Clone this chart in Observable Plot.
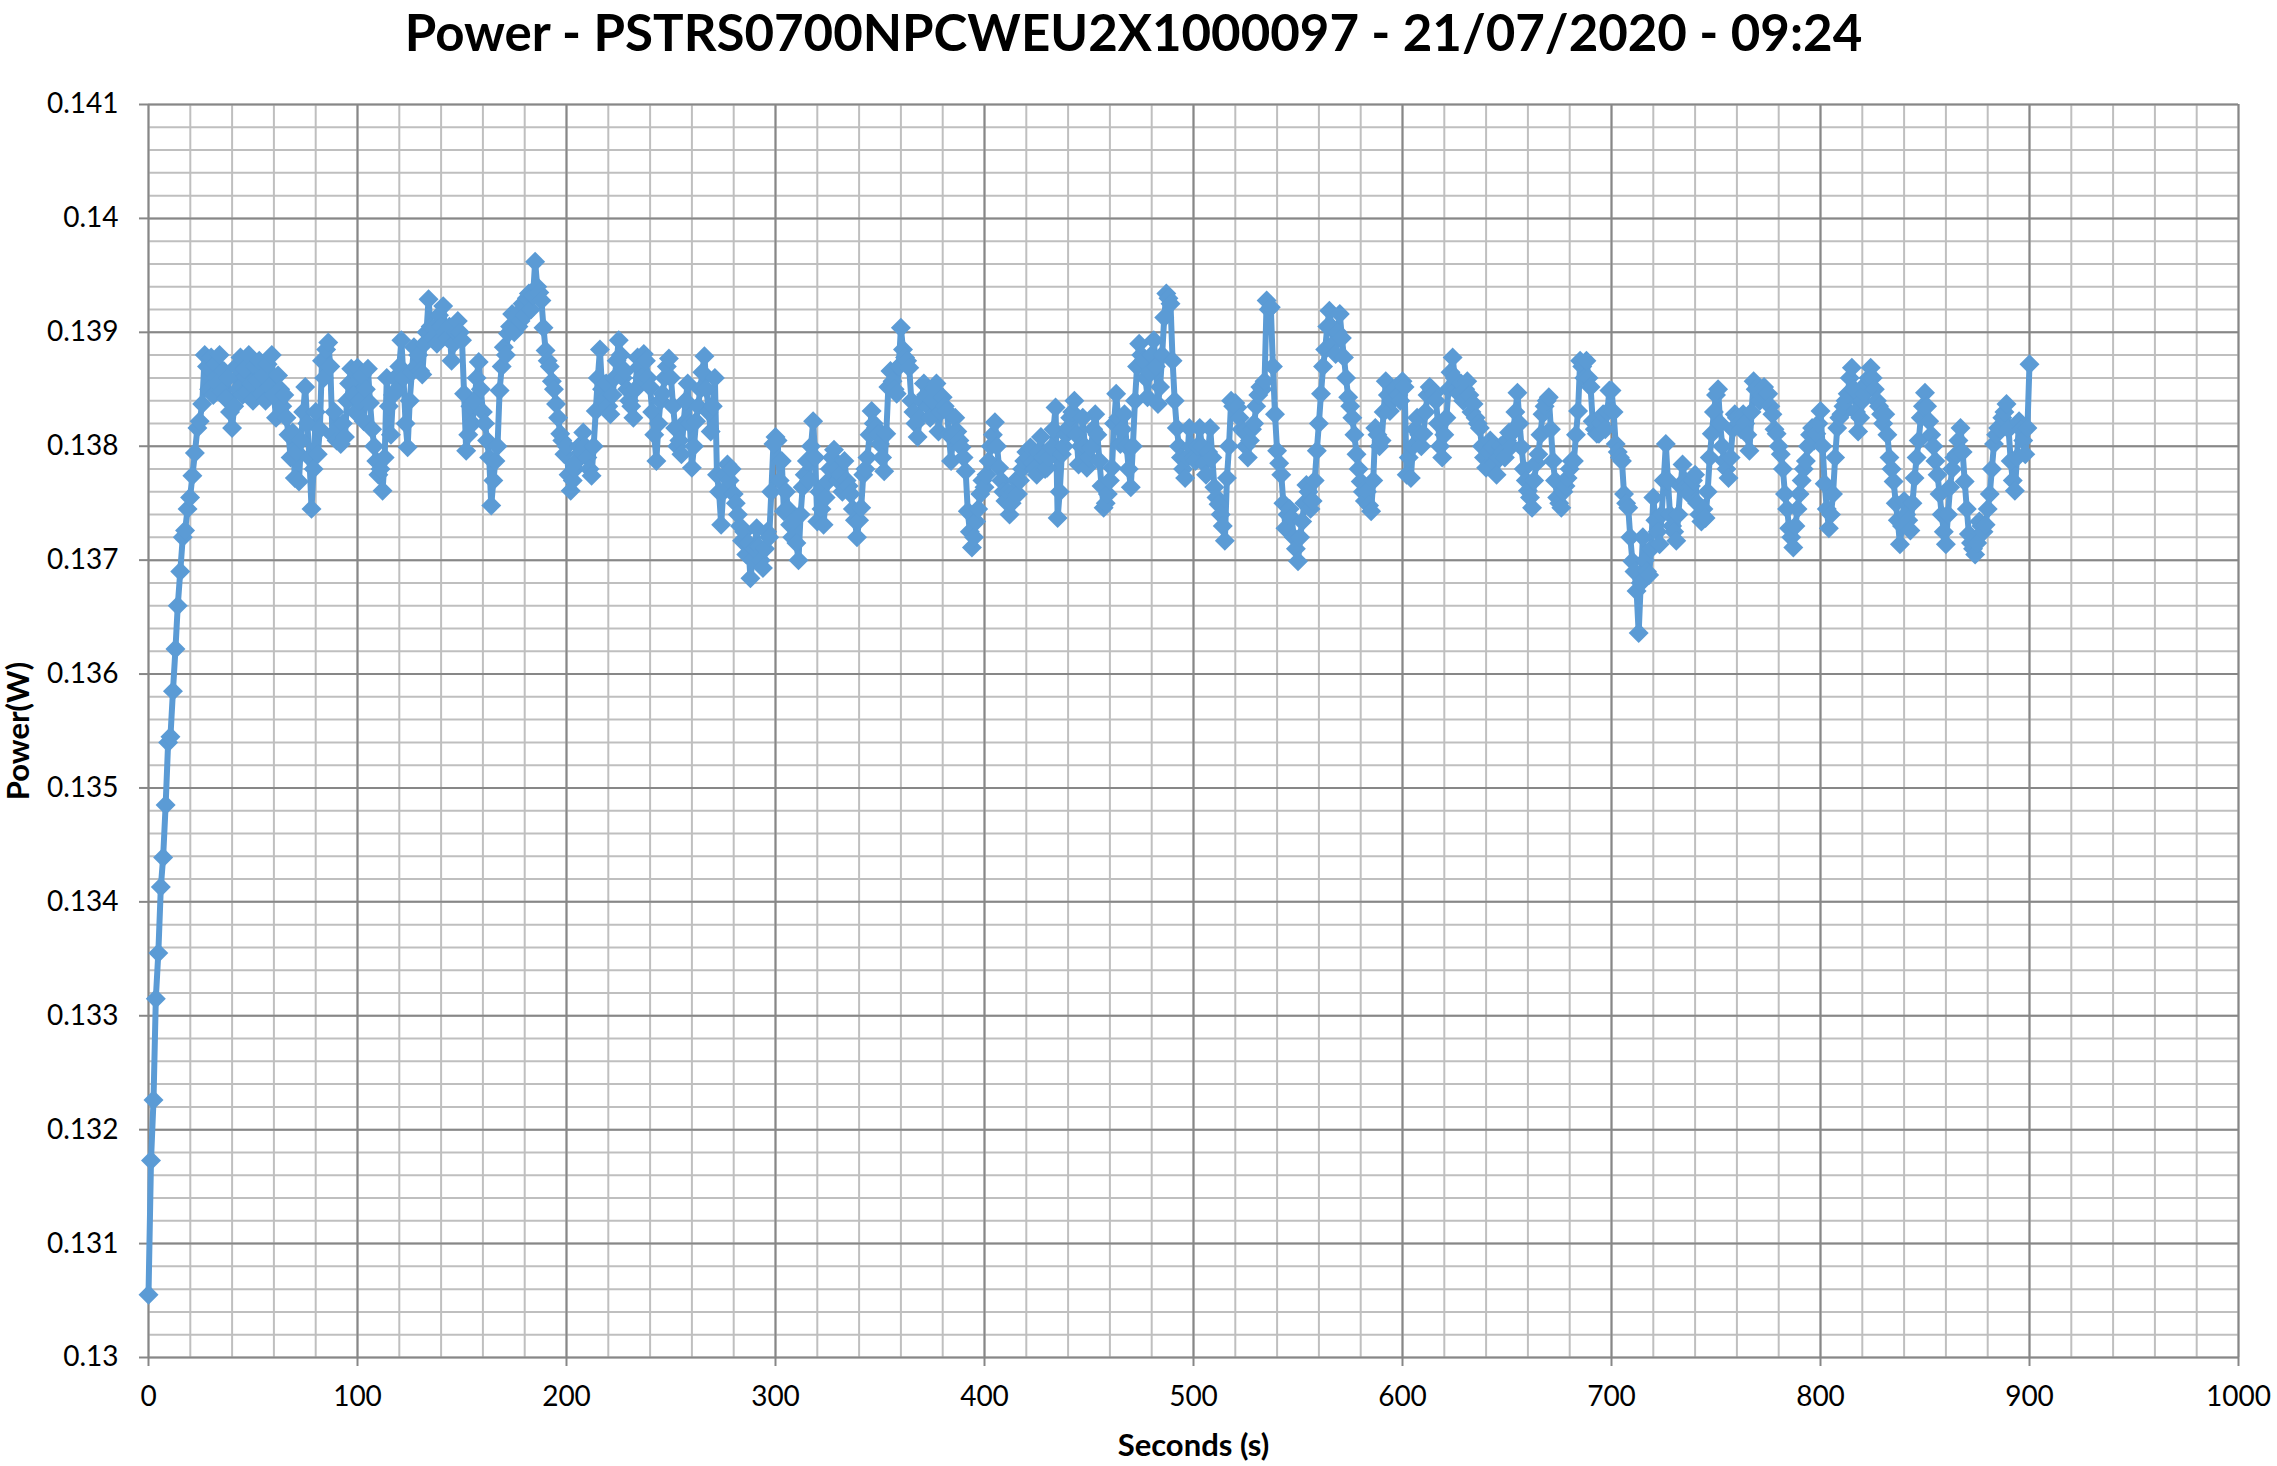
<!DOCTYPE html>
<html>
<head>
<meta charset="utf-8">
<script src="https://cdn.jsdelivr.net/npm/d3@7"></script>
<script src="https://cdn.jsdelivr.net/npm/@observablehq/plot@0.6"></script>
<style>
  html, body { margin: 0; padding: 0; background: #fff; }
  #title { height: 95px; line-height: 64px; text-align: center; font-family: Lato, "Open Sans", sans-serif; font-weight: 700; font-size: 51px; color: #000; padding-left: 0; margin-left: -10px; }
  #chart svg { display: block; }
</style>
</head>
<body>
<div id="title">Power - PSTRS0700NPCWEU2X1000097 - 21/07/2020 - 09:24</div>
<div id="chart"></div>
<script>
// ---- data ----
const rampSeconds = [0,1.2,2.4,3.5,4.7,5.9,7,8.2,9.4,10.5,11.7,12.9,14,15.2,16.4,17.5,18.7,19.9,21,22.2,23.4,24.5,25.7,26.9];
const rampPower = [0.13055,0.13173,0.13226,0.13315,0.13355,0.13413,0.13439,0.13485,0.13540,0.13545,0.13585,0.13622,0.13660,0.13690,0.13720,0.13726,0.13745,0.13755,0.13774,0.13794,0.13816,0.13822,0.13837,0.13880];
const steadyStartSecond = 28; // one reading per second from here to 900 s
const steadyPower = [
0.13870,0.13850,0.13878,0.13845,0.13872,0.13855,0.13880,0.13848,0.13866,0.13842,
0.13860,0.13830,0.13816,0.13835,0.13870,0.13850,0.13878,0.13845,0.13868,0.13848,
0.13880,0.13855,0.13840,0.13870,0.13858,0.13875,0.13846,0.13862,0.13840,0.13872,
0.13852,0.13880,0.13845,0.13825,0.13862,0.13850,0.13835,0.13845,0.13825,0.13810,
0.13790,0.13812,0.13772,0.13795,0.13769,0.13805,0.13830,0.13852,0.13820,0.13790,
0.13745,0.13780,0.13830,0.13793,0.13815,0.13875,0.13860,0.13885,0.13891,0.13870,
0.13810,0.13830,0.13805,0.13818,0.13802,0.13820,0.13808,0.13840,0.13855,0.13868,
0.13845,0.13830,0.13869,0.13840,0.13862,0.13822,0.13850,0.13868,0.13838,0.13815,
0.13800,0.13787,0.13775,0.13780,0.13761,0.13790,0.13860,0.13835,0.13810,0.13845,
0.13860,0.13850,0.13870,0.13893,0.13860,0.13820,0.13799,0.13840,0.13865,0.13887,
0.13870,0.13880,0.13866,0.13863,0.13890,0.13900,0.13929,0.13905,0.13895,0.13904,
0.13890,0.13915,0.13905,0.13923,0.13900,0.13895,0.13905,0.13875,0.13890,0.13900,
0.13910,0.13900,0.13893,0.13846,0.13796,0.13810,0.13835,0.13820,0.13840,0.13860,
0.13874,0.13850,0.13830,0.13820,0.13805,0.13790,0.13748,0.13770,0.13787,0.13800,
0.13849,0.13870,0.13887,0.13880,0.13899,0.13905,0.13916,0.13900,0.13915,0.13905,
0.13910,0.13925,0.13915,0.13930,0.13934,0.13920,0.13932,0.13962,0.13940,0.13935,
0.13928,0.13904,0.13884,0.13875,0.13870,0.13857,0.13850,0.13837,0.13825,0.13811,
0.13805,0.13793,0.13800,0.13775,0.13761,0.13770,0.13780,0.13787,0.13800,0.13795,
0.13812,0.13800,0.13790,0.13780,0.13774,0.13800,0.13831,0.13860,0.13885,0.13850,
0.13840,0.13855,0.13835,0.13828,0.13845,0.13860,0.13875,0.13893,0.13880,0.13860,
0.13866,0.13850,0.13840,0.13835,0.13825,0.13850,0.13878,0.13870,0.13860,0.13881,
0.13875,0.13860,0.13852,0.13830,0.13810,0.13787,0.13820,0.13840,0.13846,0.13860,
0.13870,0.13877,0.13860,0.13835,0.13816,0.13800,0.13805,0.13793,0.13820,0.13840,
0.13855,0.13820,0.13781,0.13800,0.13822,0.13835,0.13850,0.13865,0.13879,0.13850,
0.13830,0.13813,0.13835,0.13860,0.13775,0.13760,0.13731,0.13760,0.13775,0.13784,
0.13770,0.13780,0.13758,0.13750,0.13740,0.13730,0.13717,0.13725,0.13705,0.13715,
0.13684,0.13700,0.13710,0.13728,0.13712,0.13700,0.13693,0.13710,0.13725,0.13720,
0.13760,0.13802,0.13808,0.13805,0.13770,0.13787,0.13743,0.13760,0.13745,0.13731,
0.13720,0.13735,0.13715,0.13700,0.13740,0.13764,0.13775,0.13787,0.13770,0.13800,
0.13822,0.13790,0.13734,0.13760,0.13745,0.13731,0.13755,0.13769,0.13780,0.13790,
0.13797,0.13780,0.13770,0.13775,0.13760,0.13787,0.13770,0.13765,0.13758,0.13745,
0.13735,0.13720,0.13735,0.13746,0.13775,0.13780,0.13790,0.13810,0.13831,0.13820,
0.13816,0.13810,0.13802,0.13790,0.13778,0.13811,0.13852,0.13866,0.13857,0.13850,
0.13846,0.13870,0.13904,0.13885,0.13878,0.13875,0.13869,0.13840,0.13830,0.13820,
0.13808,0.13825,0.13840,0.13855,0.13845,0.13835,0.13825,0.13840,0.13850,0.13855,
0.13813,0.13830,0.13843,0.13835,0.13831,0.13810,0.13787,0.13810,0.13825,0.13813,
0.13805,0.13799,0.13790,0.13778,0.13743,0.13725,0.13711,0.13720,0.13734,0.13745,
0.13758,0.13770,0.13764,0.13775,0.13787,0.13800,0.13810,0.13821,0.13800,0.13781,
0.13770,0.13760,0.13752,0.13760,0.13740,0.13750,0.13760,0.13770,0.13758,0.13770,
0.13780,0.13787,0.13795,0.13790,0.13799,0.13785,0.13780,0.13775,0.13795,0.13808,
0.13790,0.13780,0.13781,0.13790,0.13799,0.13815,0.13834,0.13737,0.13760,0.13793,
0.13800,0.13810,0.13816,0.13825,0.13830,0.13840,0.13810,0.13784,0.13800,0.13825,
0.13800,0.13781,0.13790,0.13799,0.13815,0.13828,0.13810,0.13787,0.13765,0.13746,
0.13750,0.13758,0.13770,0.13781,0.13820,0.13846,0.13825,0.13802,0.13815,0.13828,
0.13800,0.13780,0.13764,0.13800,0.13840,0.13870,0.13890,0.13880,0.13875,0.13860,
0.13843,0.13865,0.13880,0.13893,0.13870,0.13837,0.13852,0.13880,0.13913,0.13934,
0.13930,0.13925,0.13875,0.13840,0.13816,0.13800,0.13790,0.13780,0.13772,0.13790,
0.13816,0.13800,0.13790,0.13787,0.13800,0.13816,0.13800,0.13785,0.13775,0.13795,
0.13816,0.13790,0.13764,0.13755,0.13749,0.13740,0.13730,0.13717,0.13772,0.13800,
0.13840,0.13835,0.13838,0.13834,0.13825,0.13815,0.13813,0.13800,0.13790,0.13805,
0.13815,0.13820,0.13835,0.13845,0.13852,0.13850,0.13857,0.13928,0.13920,0.13922,
0.13870,0.13828,0.13796,0.13785,0.13775,0.13750,0.13728,0.13740,0.13745,0.13737,
0.13720,0.13710,0.13699,0.13720,0.13734,0.13750,0.13766,0.13760,0.13745,0.13752,
0.13770,0.13796,0.13820,0.13846,0.13870,0.13885,0.13905,0.13919,0.13905,0.13890,
0.13881,0.13900,0.13916,0.13895,0.13878,0.13860,0.13843,0.13835,0.13825,0.13810,
0.13793,0.13780,0.13769,0.13760,0.13752,0.13760,0.13748,0.13743,0.13770,0.13816,
0.13810,0.13800,0.13805,0.13830,0.13857,0.13845,0.13831,0.13840,0.13850,0.13852,
0.13845,0.13840,0.13857,0.13852,0.13775,0.13790,0.13772,0.13800,0.13815,0.13825,
0.13810,0.13800,0.13811,0.13830,0.13845,0.13852,0.13850,0.13846,0.13840,0.13820,
0.13800,0.13790,0.13810,0.13825,0.13850,0.13865,0.13878,0.13860,0.13850,0.13846,
0.13855,0.13840,0.13850,0.13857,0.13845,0.13830,0.13837,0.13825,0.13820,0.13816,
0.13800,0.13790,0.13781,0.13795,0.13805,0.13799,0.13785,0.13775,0.13790,0.13800,
0.13795,0.13790,0.13805,0.13812,0.13800,0.13813,0.13830,0.13847,0.13820,0.13799,
0.13780,0.13770,0.13761,0.13755,0.13746,0.13770,0.13785,0.13793,0.13810,0.13828,
0.13835,0.13840,0.13843,0.13815,0.13787,0.13770,0.13755,0.13750,0.13746,0.13760,
0.13765,0.13772,0.13780,0.13787,0.13787,0.13810,0.13831,0.13875,0.13870,0.13860,
0.13875,0.13860,0.13852,0.13822,0.13815,0.13811,0.13811,0.13820,0.13828,0.13815,
0.13830,0.13849,0.13849,0.13830,0.13802,0.13795,0.13790,0.13787,0.13758,0.13750,
0.13746,0.13720,0.13699,0.13690,0.13673,0.13636,0.13680,0.13720,0.13700,0.13690,
0.13687,0.13710,0.13755,0.13735,0.13725,0.13714,0.13740,0.13770,0.13802,0.13770,
0.13740,0.13730,0.13725,0.13717,0.13740,0.13765,0.13784,0.13770,0.13765,0.13758,
0.13765,0.13770,0.13775,0.13750,0.13740,0.13734,0.13745,0.13737,0.13760,0.13790,
0.13811,0.13830,0.13845,0.13850,0.13820,0.13800,0.13787,0.13780,0.13772,0.13790,
0.13815,0.13828,0.13825,0.13820,0.13815,0.13828,0.13820,0.13810,0.13796,0.13830,
0.13857,0.13850,0.13852,0.13840,0.13845,0.13852,0.13845,0.13846,0.13835,0.13828,
0.13815,0.13811,0.13800,0.13793,0.13780,0.13758,0.13745,0.13728,0.13720,0.13711,
0.13730,0.13745,0.13758,0.13770,0.13780,0.13787,0.13800,0.13810,0.13816,0.13805,
0.13811,0.13820,0.13831,0.13800,0.13767,0.13745,0.13728,0.13740,0.13758,0.13790,
0.13816,0.13825,0.13828,0.13835,0.13840,0.13846,0.13860,0.13869,0.13850,0.13830,
0.13813,0.13825,0.13840,0.13846,0.13855,0.13860,0.13869,0.13860,0.13850,0.13840,
0.13835,0.13828,0.13820,0.13828,0.13810,0.13790,0.13780,0.13769,0.13750,0.13735,
0.13714,0.13730,0.13752,0.13740,0.13735,0.13726,0.13750,0.13772,0.13790,0.13805,
0.13825,0.13835,0.13847,0.13835,0.13822,0.13810,0.13800,0.13787,0.13775,0.13758,
0.13740,0.13725,0.13714,0.13740,0.13764,0.13780,0.13790,0.13793,0.13805,0.13816,
0.13795,0.13769,0.13745,0.13723,0.13715,0.13710,0.13705,0.13715,0.13734,0.13730,
0.13725,0.13731,0.13745,0.13758,0.13780,0.13802,0.13810,0.13816,0.13816,0.13825,
0.13830,0.13837,0.13815,0.13787,0.13770,0.13761,0.13790,0.13822,0.13815,0.13805,
0.13793,0.13816,0.13872
];
const xMajorTicks = [0,100,200,300,400,500,600,700,800,900,1000];
const yMajorTicks = [0.130,0.131,0.132,0.133,0.134,0.135,0.136,0.137,0.138,0.139,0.140,0.141];

// ---- build table ----
const series = rampSeconds.map((t, i) => ({t, p: rampPower[i]}))
  .concat(steadyPower.map((p, i) => ({t: steadyStartSecond + i, p})));
const xMinorTicks = d3.range(0, 1001, 20);
const yMinorTicks = d3.range(0, 56).map(i => +(0.13 + i * 0.0002).toFixed(4));

const blue = "#5B9BD5";
const chart = Plot.plot({
  width: 2277,
  height: 1371,
  marginTop: 9,
  marginBottom: 109,
  marginLeft: 148,
  marginRight: 39,
  x: {domain: [0, 1000]},
  y: {domain: [0.13, 0.141]},
  style: {fontFamily: "Lato, 'Open Sans', sans-serif", fontSize: "28px", color: "#000", background: "#fff", overflow: "visible"},
  marks: [
    Plot.ruleX(xMinorTicks, {stroke: "#bfbfbf", strokeWidth: 2}),
    Plot.ruleY(yMinorTicks, {stroke: "#bfbfbf", strokeWidth: 2}),
    Plot.ruleX(xMajorTicks, {stroke: "#878787", strokeWidth: 2}),
    Plot.ruleY(yMajorTicks, {stroke: "#878787", strokeWidth: 2}),
    Plot.axisX({ticks: xMajorTicks, tickSize: 9, tickPadding: 20, label: null, stroke: "#878787", strokeWidth: 2, fill: "#000", tickFormat: d => String(d)}),
    Plot.axisY({ticks: yMajorTicks, tickSize: 9, tickPadding: 21, label: null, stroke: "#878787", strokeWidth: 2, fill: "#000", tickFormat: d => String(+d.toFixed(3))}),
    Plot.line(series, {x: "t", y: "p", stroke: blue, strokeWidth: 6, strokeLinejoin: "round"}),
    Plot.dot(series, {x: "t", y: "p", symbol: "diamond2", r: 9, fill: blue, stroke: "none"}),
    Plot.text(["Seconds (s)"], {frameAnchor: "bottom", dy: 98, fontWeight: "bold", fontSize: 31, fill: "#000"}),
    Plot.text(["Power(W)"], {frameAnchor: "left", dx: -129, rotate: -90, textAnchor: "middle", fontWeight: "bold", fontSize: 31, fill: "#000"})
  ]
});
document.getElementById("chart").appendChild(chart);
</script>
</body>
</html>
